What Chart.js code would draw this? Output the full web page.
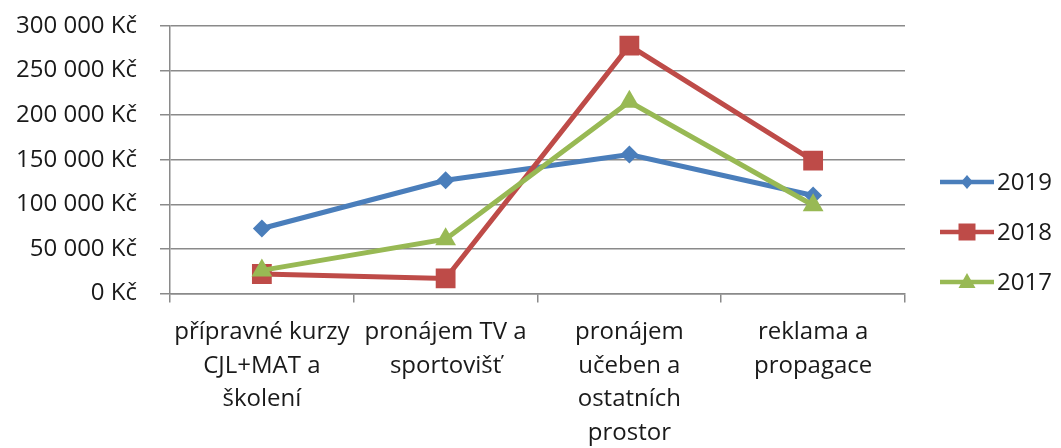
<!DOCTYPE html>
<html>
<head>
<meta charset="utf-8">
<script src="https://cdn.jsdelivr.net/npm/chart.js@4.4.1/dist/chart.umd.min.js"></script>
<style>
  body { margin: 0; background: #fff; }
  #wrap { width: 1061px; height: 448px; }
</style>
</head>
<body>
<div id="wrap"><canvas id="chart" width="1061" height="448"></canvas></div>
<script>
// data
const categories = [
  ['přípravné kurzy', 'CJL+MAT a', 'školení'],
  ['pronájem TV a', 'sportovišť'],
  ['pronájem', 'učeben a', 'ostatních', 'prostor'],
  ['reklama a', 'propagace']
];
const seriesNames = ['2019', '2018', '2017'];
const values2019 = [73000, 127000, 156000, 110000];
const values2018 = [22000, 17000, 278000, 149000];
const values2017 = [26000, 61000, 215000, 99000];
const yTickLabels = ['0 Kč', '50 000 Kč', '100 000 Kč', '150 000 Kč', '200 000 Kč', '250 000 Kč', '300 000 Kč'];

const colors = ['#4a7ebb', '#be4b48', '#98b954'];
const markers = ['rectRot', 'rect', 'triangle'];
const markerSizes = [9, 14, 12];
const FONT = "'Open Sans', 'Noto Sans', sans-serif";

// legend drawn by hand: line + marker like the original
const legendPlugin = {
  id: 'lineLegend',
  afterDraw(chart) {
    const ctx = chart.ctx;
    chart.data.datasets.forEach((ds, i) => {
      const y = 182 + i * 50;
      const x0 = 940, x1 = 994, cx = (x0 + x1) / 2;
      ctx.save();
      ctx.strokeStyle = ds.borderColor;
      ctx.fillStyle = ds.borderColor;
      ctx.lineWidth = 4.5;
      ctx.beginPath();
      ctx.moveTo(x0, y);
      ctx.lineTo(x1, y);
      ctx.stroke();
      ctx.beginPath();
      if (i === 0) {
        ctx.moveTo(cx, y - 7); ctx.lineTo(cx + 6, y); ctx.lineTo(cx, y + 7); ctx.lineTo(cx - 6, y);
      } else if (i === 1) {
        ctx.rect(cx - 8.5, y - 8.5, 17, 17);
      } else {
        ctx.moveTo(cx, y - 9); ctx.lineTo(cx + 8.5, y + 6); ctx.lineTo(cx - 8.5, y + 6);
      }
      ctx.closePath();
      ctx.fill();
      ctx.fillStyle = '#1a1a1a';
      ctx.font = '24px ' + FONT;
      ctx.textBaseline = 'middle';
      ctx.fillText(ds.label, 997, y + 1);
      ctx.restore();
    });
  }
};

const allValues = [values2019, values2018, values2017];

new Chart(document.getElementById('chart'), {
  type: 'line',
  data: {
    labels: categories,
    datasets: seriesNames.map((name, i) => ({
      label: name,
      data: allValues[i],
      borderColor: colors[i],
      backgroundColor: colors[i],
      borderWidth: 5,
      tension: 0,
      pointStyle: markers[i],
      pointRadius: markerSizes[i],
      pointBorderWidth: 0,
      pointHoverRadius: markerSizes[i],
      order: 3 - i
    }))
  },
  options: {
    responsive: false,
    animation: false,
    events: [],
    layout: { autoPadding: false, padding: { left: -7, right: 156, top: 26, bottom: -15 } },
    plugins: {
      legend: { display: false },
      tooltip: { enabled: false }
    },
    scales: {
      x: {
        offset: true,
        grid: { offset: true, drawOnChartArea: false, tickLength: 9, color: '#8a8a8a', lineWidth: 1.5 },
        border: { color: '#8a8a8a', width: 1.5 },
        ticks: {
          color: '#1a1a1a',
          font: { family: FONT, size: 24, lineHeight: 1.4 },
          padding: 13,
          maxRotation: 0,
          autoSkip: false
        }
      },
      y: {
        min: 0,
        max: 300000,
        // tick padding would otherwise push the plot top down
        afterFit: (scale) => { scale.paddingTop = 0; scale.paddingBottom = 0; },
        grid: { tickLength: 10, color: '#8a8a8a', lineWidth: 1.5 },
        border: { color: '#8a8a8a', width: 1.5 },
        ticks: {
          stepSize: 50000,
          color: '#1a1a1a',
          font: { family: FONT, size: 24 },
          padding: 23,
          callback: (v, i) => yTickLabels[i]
        }
      }
    }
  },
  plugins: [legendPlugin]
});
</script>
</body>
</html>
